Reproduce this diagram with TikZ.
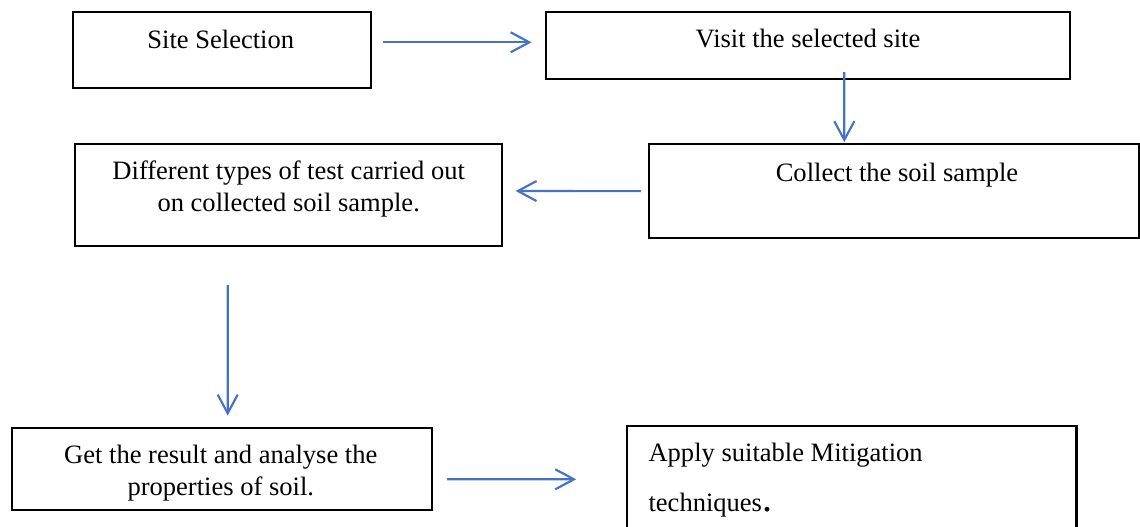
\documentclass[tikz,border=0pt]{standalone}
\usepackage{fontspec}
\setmainfont{Liberation Serif}
\usepackage{xcolor}
\usetikzlibrary{arrows.meta,calc}
\definecolor{flowblue}{HTML}{4472C4}

\begin{document}
\begin{tikzpicture}[x=0.75pt,y=-0.75pt]
\tikzset{stage/.style={draw=black,line width=1.7pt,inner sep=0pt}}
\tikzset{stage text/.style={inner sep=0pt,text=black,font=\fontsize{19.9pt}{24pt}\selectfont}}
\tikzset{flow/.style={draw=flowblue,line width=1.6pt,-{Straight Barb[length=14pt,width=15pt]}}}

\clip (0,0) rectangle (1140,527);

\node[stage,minimum width=223.5pt,minimum height=57.45pt] (site) at (221.7,50) {};
\node[stage,minimum width=393.2pt,minimum height=49.8pt] (visit) at (807.85,45.5) {};
\node[stage,minimum width=367.9pt,minimum height=70.7pt] (collect) at (894.25,191.15) {};
\node[stage,minimum width=320.25pt,minimum height=76.5pt] (tests) at (288.5,195) {};
\node[stage,minimum width=315.2pt,minimum height=61.3pt] (result) at (222.15,469.15) {};
\node[stage,minimum width=337pt,minimum height=89.25pt] (mitigate) at (851.7,485.5) {};

\node[stage text,anchor=base] (siteText) at (220.8,48.3) {Site Selection};
\node[stage text,anchor=base] (visitText) at (808,48) {Visit the selected site};
\node[stage text,anchor=base] (collectText) at (897,181.7) {Collect the soil sample};
\node[stage text,anchor=base,text width=330pt,align=flush center] (testsText) at (288.7,179.3) {Different types of test carried out\\ on collected soil sample.};
\node[stage text,anchor=base,text width=330pt,align=flush center] (resultText) at (220.8,463.3) {Get the result and analyse the\\ properties of soil.};
\node[stage text,anchor=base west,text width=320pt,align=flush left] (mitigateText) at (648.3,461.7) {Apply suitable Mitigation\\[13.5pt] techniques{\fontsize{30pt}{24pt}\selectfont.}};

\draw[flow] ($(site.east)+(11,-7.7)$) -- ($(visit.west)+(-13,-3.2)$);
\draw[flow] ($(visit.south)+(36.45,-7.7)$) -- ($(collect.north)+(-49.95,-0.7)$);
\draw[flow] ($(collect.west)+(-7,0)$) -- ($(tests.east)+(12.5,-4)$);
\draw[flow] ($(tests.south)+(-60.8,38)$) -- ($(result.north)+(5.55,-11.6)$);
\draw[flow] ($(result.east)+(13.7,10.15)$) -- ($(mitigate.west)+(-49.7,-6.2)$);

\end{tikzpicture}
\end{document}
